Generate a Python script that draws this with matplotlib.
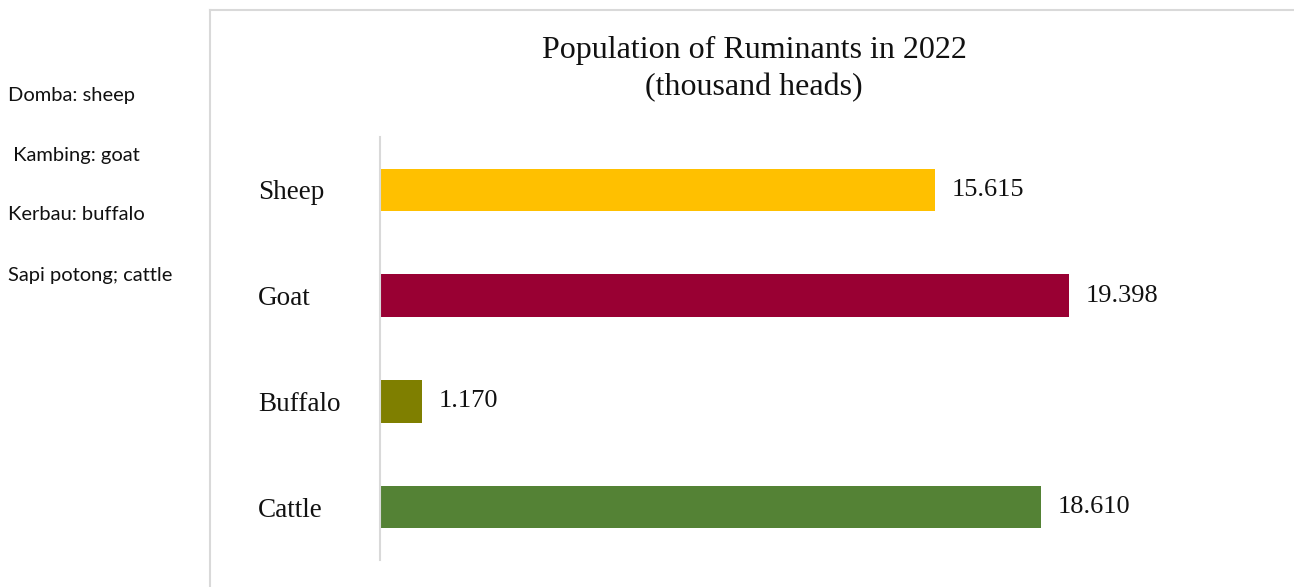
import matplotlib.pyplot as plt
from matplotlib.lines import Line2D

animals = ['Sheep', 'Goat', 'Buffalo', 'Cattle']
population = [15.615, 19.398, 1.170, 18.610]
value_labels = ['15.615', '19.398', '1.170', '18.610']
colors = ['#FFC000', '#990033', '#7F7F00', '#548235']

notes = ['Domba: sheep', ' Kambing: goat', 'Kerbau: buffalo', 'Sapi potong; cattle']
note_y = [96, 156, 214, 275]

W, H = 1294, 587
fig = plt.figure(figsize=(W / 100, H / 100), dpi=100)

# axes placed in pixel terms
left, right, top, bottom = 380, 1200, 137, 560
ax = fig.add_axes([left / W, 1 - bottom / H, (right - left) / W, (bottom - top) / H])

bars = ax.barh(range(len(animals)), population, height=0.4, color=colors)
ax.set_ylim(3.5, -0.5)
ax.set_xlim(0, (right - left) / 35.54)

ax.bar_label(bars, labels=value_labels, padding=12, fontsize=19,
             family='Liberation Serif', color='#111111')

ax.set_yticks(range(len(animals)))
ax.set_yticklabels(animals, fontsize=19.5, family='Liberation Serif', ha='left', color='#111111')
ax.tick_params(axis='y', length=0, pad=(left - 258) * 0.72)
ax.set_xticks([])
for s in ['top', 'right', 'bottom']:
    ax.spines[s].set_visible(False)
ax.spines['left'].set_color('#D9D9D9')
ax.spines['left'].set_linewidth(1.5)

fig.text(754 / W, 1 - 50 / H, 'Population of Ruminants in 2022', ha='center', va='center',
         fontsize=23, family='Liberation Serif', color='#111111')
fig.text(754 / W, 1 - 88 / H, '(thousand heads)', ha='center', va='center',
         fontsize=23, family='Liberation Serif', color='#111111')

for txt, yy in zip(notes, note_y):
    fig.text(8 / W, 1 - yy / H, txt, ha='left', va='center', fontsize=14.5,
             family='Lato', color='#111111')

# outer frame lines
fig.add_artist(Line2D([210 / W, 210 / W], [0, 1 - 10 / H], transform=fig.transFigure,
                      color='#D9D9D9', lw=1.5))
fig.add_artist(Line2D([210 / W, 1], [1 - 10 / H, 1 - 10 / H], transform=fig.transFigure,
                      color='#D9D9D9', lw=1.5))

fig.savefig('out.png', dpi=100)
